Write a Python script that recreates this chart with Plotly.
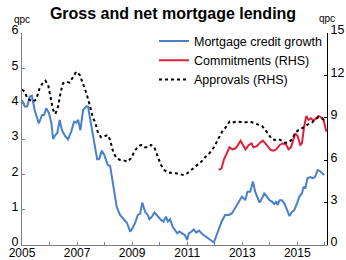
import plotly.graph_objects as go

# Mortgage credit growth (LHS, qpc)
mcg_x = [2005.00, 2005.10, 2005.19, 2005.28, 2005.36, 2005.46, 2005.61, 2005.73, 2005.80, 2005.88,
         2005.98, 2006.07, 2006.13, 2006.21, 2006.28, 2006.37, 2006.45, 2006.57, 2006.67, 2006.79,
         2006.89, 2006.97, 2007.04, 2007.12, 2007.22, 2007.34, 2007.40, 2007.52, 2007.64, 2007.73,
         2007.80, 2007.90, 2007.99, 2008.12, 2008.20, 2008.32, 2008.44, 2008.56, 2008.68, 2008.81,
         2008.93, 2009.01, 2009.11, 2009.21, 2009.29, 2009.37, 2009.47, 2009.57, 2009.63, 2009.72,
         2009.81, 2009.93, 2010.05, 2010.14, 2010.23, 2010.30, 2010.38, 2010.47, 2010.55, 2010.64,
         2010.72, 2010.82, 2010.92, 2011.00, 2011.06, 2011.16, 2011.24, 2011.33, 2011.43, 2011.55,
         2011.67, 2011.79, 2011.88, 2011.97, 2012.05, 2012.15, 2012.25, 2012.38, 2012.52, 2012.63,
         2012.81, 2012.99, 2013.11, 2013.19, 2013.29, 2013.39, 2013.47, 2013.56, 2013.63, 2013.72,
         2013.80, 2013.90, 2013.99, 2014.08, 2014.16, 2014.24, 2014.28, 2014.36, 2014.44, 2014.53,
         2014.63, 2014.72, 2014.81, 2014.89, 2014.99, 2015.08, 2015.17, 2015.23, 2015.29, 2015.37,
         2015.47, 2015.57, 2015.65, 2015.74, 2015.81, 2015.90, 2015.98]
mcg_y = [4.10, 3.92, 3.92, 4.20, 4.22, 3.82, 3.44, 3.68, 3.68, 3.87,
         3.73, 3.44, 3.00, 3.11, 3.16, 3.54, 3.25, 3.08, 2.99, 3.21,
         3.49, 3.46, 3.54, 3.25, 3.82, 3.93, 3.91, 3.35, 2.78, 2.43,
         2.43, 2.67, 2.55, 2.26, 2.24, 1.65, 1.08, 0.85, 0.73, 0.63,
         0.38, 0.47, 0.63, 0.85, 0.88, 1.20, 0.94, 0.85, 0.73, 0.80,
         0.92, 0.80, 0.71, 0.66, 0.80, 0.66, 0.73, 0.52, 0.42, 0.33,
         0.38, 0.33, 0.28, 0.14, 0.33, 0.38, 0.44, 0.35, 0.41, 0.31,
         0.24, 0.19, 0.14, 0.07, 0.24, 0.47, 0.66, 0.85, 0.85, 0.90,
         1.13, 1.37, 1.27, 1.51, 1.51, 1.80, 1.51, 1.32, 1.20, 1.32,
         1.46, 1.37, 1.27, 1.23, 1.16, 1.23, 1.13, 1.27, 1.27, 1.18,
         0.99, 0.82, 0.94, 0.99, 1.18, 1.37, 1.46, 1.65, 1.60, 1.89,
         1.92, 1.89, 1.93, 2.12, 2.10, 2.03, 1.98]

# Commitments (RHS, qpc)
com_x = [2012.15, 2012.25, 2012.33, 2012.45, 2012.54, 2012.64, 2012.76, 2012.85, 2012.94, 2013.03,
         2013.12, 2013.24, 2013.34, 2013.41, 2013.53, 2013.65, 2013.75, 2013.84, 2013.96, 2014.04,
         2014.14, 2014.24, 2014.36, 2014.48, 2014.60, 2014.68, 2014.77, 2014.84, 2014.93, 2015.01,
         2015.11, 2015.17, 2015.25, 2015.33, 2015.41, 2015.50, 2015.59, 2015.69, 2015.77, 2015.86,
         2015.96, 2016.05]
com_y = [5.31, 5.43, 6.02, 6.53, 6.91, 6.77, 6.84, 7.08, 7.38, 7.08,
         6.77, 7.08, 7.19, 6.91, 7.00, 7.24, 7.38, 7.19, 6.91, 6.72,
         6.67, 6.77, 7.08, 7.19, 7.08, 6.77, 6.91, 7.31, 7.90, 7.71,
         7.08, 7.19, 8.37, 9.13, 8.85, 8.97, 8.80, 8.97, 9.13, 9.04,
         8.85, 8.02]

# Approvals (RHS, qpc)
app_x = [2005.00, 2005.10, 2005.19, 2005.28, 2005.40, 2005.52, 2005.64, 2005.76, 2005.85, 2005.95,
         2006.04, 2006.13, 2006.21, 2006.31, 2006.41, 2006.49, 2006.61, 2006.73, 2006.85, 2006.97,
         2007.10, 2007.22, 2007.34, 2007.46, 2007.58, 2007.65, 2007.75, 2007.87, 2007.99, 2008.12,
         2008.20, 2008.32, 2008.44, 2008.56, 2008.72, 2008.84, 2008.96, 2009.08, 2009.21, 2009.33,
         2009.45, 2009.57, 2009.69, 2009.81, 2009.93, 2010.05, 2010.17, 2010.30, 2010.42, 2010.54,
         2010.60, 2010.76, 2010.88, 2011.00, 2011.12, 2011.24, 2011.36, 2011.52, 2011.67, 2011.81,
         2011.97, 2012.13, 2012.27, 2012.42, 2012.54, 2012.64, 2012.78, 2012.94, 2013.12, 2013.29,
         2013.47, 2013.59, 2013.72, 2013.84, 2013.96, 2014.08, 2014.20, 2014.32, 2014.44, 2014.56,
         2014.68, 2014.81, 2014.93, 2015.05, 2015.17, 2015.29, 2015.41, 2015.53, 2015.65, 2015.77,
         2015.90, 2016.02]
app_y = [11.00, 10.85, 10.38, 10.26, 10.14, 10.31, 11.09, 11.49, 11.63, 11.32,
         10.31, 9.55, 9.27, 9.79, 10.85, 11.44, 11.56, 11.49, 11.87, 12.26,
         12.03, 11.44, 10.74, 9.91, 8.97, 8.73, 8.02, 7.62, 7.71, 7.78,
         7.43, 6.53, 6.14, 6.02, 5.97, 5.90, 6.14, 6.60, 6.96, 7.08,
         6.91, 6.91, 7.08, 6.91, 6.25, 5.66, 5.31, 5.12, 5.12, 5.12,
         5.07, 5.00, 4.95, 5.07, 5.26, 5.43, 5.59, 5.90, 6.25, 6.49,
         6.91, 7.48, 8.02, 8.37, 8.73, 8.66, 8.73, 8.70, 8.68, 8.73,
         8.61, 8.49, 8.42, 8.14, 7.78, 7.48, 7.43, 7.48, 7.38, 7.24,
         7.24, 7.48, 7.95, 8.14, 8.26, 8.42, 8.56, 8.66, 8.90, 9.04,
         8.97, 8.73]

year_ticks = list(range(2005, 2017))
year_labels = [str(y) if y % 2 == 1 else "" for y in year_ticks]
left_ticks = [0, 1, 2, 3, 4, 5, 6]
right_ticks = [0, 3, 6, 9, 12, 15]

FONT = "Liberation Sans, Arial, sans-serif"

fig = go.Figure()
fig.add_trace(go.Scatter(x=mcg_x, y=mcg_y, mode="lines", name="Mortgage credit growth",
                         line=dict(color="#4a7fc9", width=2), yaxis="y"))
fig.add_trace(go.Scatter(x=com_x, y=com_y, mode="lines", name="Commitments (RHS)",
                         line=dict(color="#e0213d", width=2), yaxis="y2"))
fig.add_trace(go.Scatter(x=app_x, y=app_y, mode="lines", name="Approvals (RHS)",
                         line=dict(color="#000000", width=2, dash="dot"), yaxis="y2"))

fig.update_layout(
    width=346, height=260,
    margin=dict(l=22, r=19, t=33, b=15, autoexpand=False),
    paper_bgcolor="white", plot_bgcolor="white",
    font=dict(family=FONT, size=12, color="#000000"),
    title=dict(text="<b>Gross and net mortgage lending</b>", x=0.5, xanchor="center",
               y=0.949, yanchor="middle", yref="container",
               font=dict(family=FONT, size=16, color="#000000")),
    showlegend=True,
    legend=dict(x=1.0, y=1.031, xanchor="right", yanchor="top", bgcolor="rgba(0,0,0,0)",
                font=dict(family=FONT, size=12.5, color="#000000"), itemwidth=30,
                tracegroupgap=0, borderwidth=0),
    xaxis=dict(range=[2005, 2016.08], tickvals=year_ticks, ticktext=year_labels,
               ticks="inside", ticklen=3, tickcolor="#808080", showline=True,
               linecolor="#808080", linewidth=1, showgrid=False, zeroline=False,
               tickfont=dict(size=12), automargin=False, ticklabelstandoff=-3),
    yaxis=dict(range=[0, 6], tickvals=left_ticks, ticks="inside", ticklen=3,
               tickcolor="#808080", showline=True, linecolor="#808080", linewidth=1,
               showgrid=False, zeroline=False, tickfont=dict(size=12.5), automargin=False,
               ticklabelshift=-3),
    yaxis2=dict(range=[0, 15], tickvals=right_ticks, overlaying="y", side="right",
                ticks="inside", ticklen=3, tickcolor="#000000", showline=True,
                linecolor="#000000", linewidth=1, showgrid=False, zeroline=False,
                tickfont=dict(size=12.5), automargin=False, ticklabelshift=-3),
    annotations=[
        dict(text="qpc", xref="paper", yref="paper", x=0, y=1, xanchor="center",
             yanchor="bottom", yshift=6, showarrow=False, font=dict(size=10)),
        dict(text="qpc", xref="paper", yref="paper", x=1, y=1, xanchor="center",
             yanchor="bottom", yshift=7, showarrow=False, font=dict(size=10)),
    ],
)

fig.write_html("out.html", config={"displayModeBar": False},
               post_script="document.body.style.margin='0';")
